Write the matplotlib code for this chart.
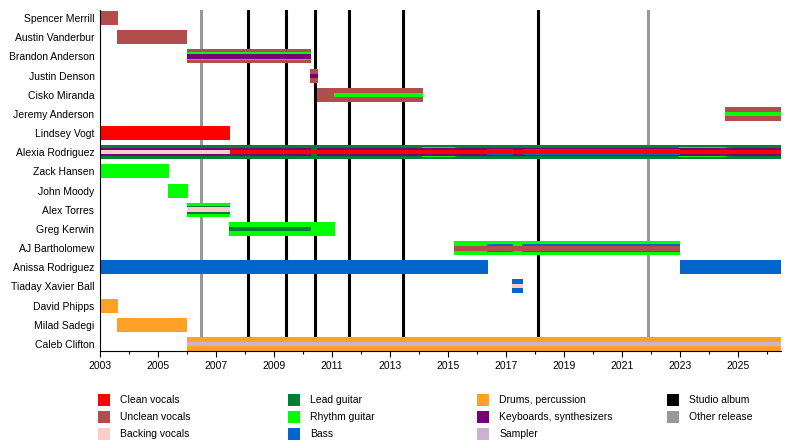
import matplotlib
matplotlib.use("Agg")
import matplotlib.pyplot as plt
from matplotlib.patches import Rectangle

plt.rcParams['font.family'] = ['Liberation Sans', 'DejaVu Sans']

members = ["Spencer Merrill", "Austin Vanderbur", "Brandon Anderson", "Justin Denson",
           "Cisko Miranda", "Jeremy Anderson", "Lindsey Vogt", "Alexia Rodriguez",
           "Zack Hansen", "John Moody", "Alex Torres", "Greg Kerwin", "AJ Bartholomew",
           "Anissa Rodriguez", "Tiaday Xavier Ball", "David Phipps", "Milad Sadegi",
           "Caleb Clifton"]

roles = ["Clean vocals", "Unclean vocals", "Backing vocals",
         "Lead guitar", "Rhythm guitar", "Bass",
         "Drums, percussion", "Keyboards, synthesizers", "Sampler"]
role_colors = ["#FF0000", "#B34D4D", "#FFCCCC",
               "#008037", "#00FF00", "#0066CC",
               "#FFA028", "#780078", "#CDB2D0"]

# one entry per bar: member, role, start, end (decimal years)
seg_member = ["Spencer Merrill", "Austin Vanderbur",
              "Brandon Anderson", "Brandon Anderson", "Brandon Anderson",
              "Justin Denson", "Justin Denson",
              "Cisko Miranda", "Cisko Miranda",
              "Jeremy Anderson", "Jeremy Anderson",
              "Lindsey Vogt",
              "Alexia Rodriguez", "Alexia Rodriguez", "Alexia Rodriguez",
              "Alexia Rodriguez", "Alexia Rodriguez", "Alexia Rodriguez",
              "Alexia Rodriguez", "Alexia Rodriguez", "Alexia Rodriguez",
              "Zack Hansen", "John Moody",
              "Alex Torres", "Alex Torres", "Alex Torres",
              "Greg Kerwin", "Greg Kerwin",
              "AJ Bartholomew", "AJ Bartholomew", "AJ Bartholomew", "AJ Bartholomew",
              "Anissa Rodriguez", "Anissa Rodriguez",
              "Tiaday Xavier Ball", "Tiaday Xavier Ball",
              "David Phipps", "Milad Sadegi",
              "Caleb Clifton", "Caleb Clifton"]
seg_role = ["Unclean vocals", "Unclean vocals",
            "Unclean vocals", "Rhythm guitar", "Keyboards, synthesizers",
            "Unclean vocals", "Keyboards, synthesizers",
            "Unclean vocals", "Rhythm guitar",
            "Unclean vocals", "Rhythm guitar",
            "Clean vocals",
            "Lead guitar", "Rhythm guitar", "Rhythm guitar",
            "Keyboards, synthesizers", "Keyboards, synthesizers", "Bass",
            "Bass", "Backing vocals", "Clean vocals",
            "Rhythm guitar", "Rhythm guitar",
            "Rhythm guitar", "Lead guitar", "Backing vocals",
            "Rhythm guitar", "Lead guitar",
            "Rhythm guitar", "Bass", "Bass", "Unclean vocals",
            "Bass", "Bass",
            "Bass", "Backing vocals",
            "Drums, percussion", "Drums, percussion",
            "Drums, percussion", "Sampler"]
seg_start = [2003.0, 2003.6,
             2006.0, 2006.0, 2006.0,
             2010.24, 2010.24,
             2010.48, 2011.07,
             2024.55, 2024.55,
             2003.0,
             2003.0, 2014.1, 2022.97,
             2003.0, 2010.48, 2016.34,
             2017.55, 2003.0, 2007.48,
             2003.0, 2005.34,
             2006.0, 2006.0, 2006.0,
             2007.45, 2007.45,
             2015.2, 2016.34, 2017.55, 2015.2,
             2003.0, 2023.0,
             2017.2, 2017.2,
             2003.0, 2003.6,
             2006.0, 2006.0]
seg_end = [2003.62, 2006.0,
           2010.28, 2010.28, 2010.28,
           2010.52, 2010.52,
           2014.14, 2014.14,
           2026.48, 2026.48,
           2007.48,
           2026.48, 2015.24, 2024.59,
           2010.28, 2026.48, 2017.24,
           2023.0, 2007.48, 2026.48,
           2005.38, 2006.03,
           2007.48, 2007.48, 2007.48,
           2011.1, 2010.28,
           2023.0, 2017.24, 2023.0, 2023.0,
           2016.38, 2026.48,
           2017.59, 2017.59,
           2003.62, 2006.0,
           2026.48, 2026.48]

studio_albums = [2008.1, 2009.41, 2010.41, 2011.59, 2013.45, 2018.1]
other_releases = [2006.48, 2021.9]

x_start, x_end = 2003.0, 2026.48

# bar heights (in row units) depending on how many roles a member stacks
layer_heights = {1: [0.73], 2: [0.73, 0.21], 3: [0.73, 0.42, 0.25],
                 5: [0.73, 0.52, 0.40, 0.30, 0.21]}


def role_group(role):
    if role in ("Clean vocals", "Backing vocals"):
        return "vocals"
    return role


def member_layers(name):
    order = []
    for m, r in zip(seg_member, seg_role):
        if m == name and role_group(r) not in order:
            order.append(role_group(r))
    return order


fig = plt.figure(figsize=(8, 4.45), dpi=100)
ax = fig.add_axes([100 / 800, 1 - 351 / 445, 681 / 800, 341 / 445])

for x in studio_albums:
    ax.axvline(x, color="#000000", lw=2.2, zorder=1)
for x in other_releases:
    ax.axvline(x, color="#999999", lw=2.2, zorder=1)

for m, r, s, e in zip(seg_member, seg_role, seg_start, seg_end):
    y = members.index(m)
    order = member_layers(m)
    layer = order.index(role_group(r))
    h = layer_heights[len(order)][layer]
    ax.barh(y, e - s, left=s, height=h, color=role_colors[roles.index(r)],
            linewidth=0, zorder=2 + layer)

ax.set_xlim(x_start, x_end)
ax.set_ylim(17.365, -0.417)
ax.set_yticks(range(len(members)))
ax.set_yticklabels(members, fontsize=7.5)
ax.tick_params(axis="y", length=0, pad=4)
ax.set_xticks(range(2003, 2026, 2))
ax.set_xticks(range(2003, 2027), minor=True)
ax.tick_params(axis="x", which="major", length=4.5, width=0.8, labelsize=7.5, pad=3)
ax.tick_params(axis="x", which="minor", length=2, width=0.8)
for side in ["top", "right"]:
    ax.spines[side].set_visible(False)
for side in ["left", "bottom"]:
    ax.spines[side].set_linewidth(0.8)
    ax.spines[side].set_zorder(10)

# legend laid out in four columns like the original
legend_labels = roles + ["Studio album", "Other release"]
legend_colors = role_colors + ["#000000", "#999999"]
for i, (lab, col) in enumerate(zip(legend_labels, legend_colors)):
    cx = 98 + (i // 3) * 189.7
    cy = 400 + (i % 3) * 17
    fig.add_artist(Rectangle((cx / 800, 1 - (cy + 6) / 445), 12 / 800, 12 / 445,
                             transform=fig.transFigure, color=col, lw=0))
    fig.text((cx + 22) / 800, 1 - cy / 445, lab, fontsize=7.5, va="center", ha="left")

fig.savefig("out.png", dpi=100)
